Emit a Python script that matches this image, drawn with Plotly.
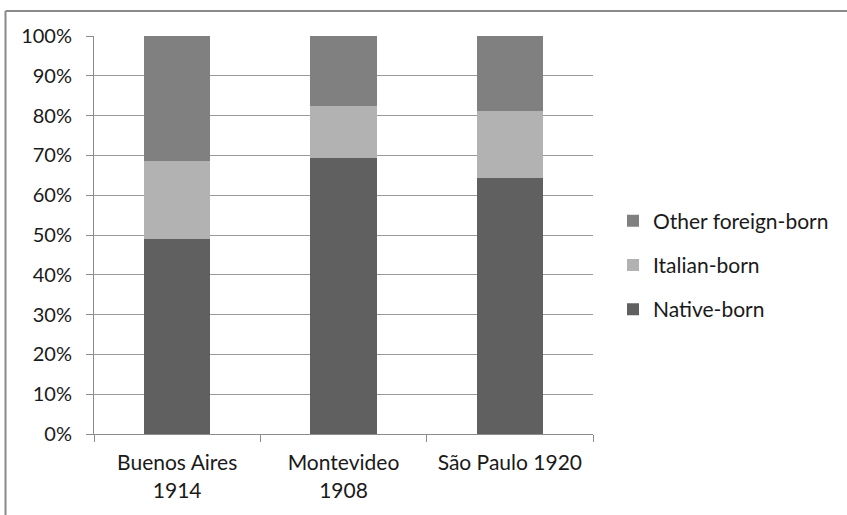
import plotly.graph_objects as go

cities = ["Buenos Aires<br>1914", "Montevideo<br>1908", "São Paulo 1920"]
native_born = [0.491, 0.693, 0.644]
italian_born = [0.196, 0.131, 0.168]
other_foreign = [0.313, 0.176, 0.188]

# (name, values, colour, legend rank)
series = [
    ("Native-born", native_born, "#606060", 3),
    ("Italian-born", italian_born, "#b2b2b2", 2),
    ("Other foreign-born", other_foreign, "#808080", 1),
]

fig = go.Figure()
for name, vals, color, rank in series:
    fig.add_trace(go.Bar(
        x=cities, y=vals, name=name, legendgroup=name, legendrank=rank,
        marker=dict(color=color, line=dict(width=0)),
        width=0.4,
    ))

W, H = 847, 515
ml, mr, mt, mb = 94, 254, 36, 81
pw, ph = W - ml - mr, H - mt - mb

# outer chart frame (top and left edges)
fx = (5.5 - ml) / pw
fy = (H - mb - 11) / ph
fig.add_shape(type="line", xref="paper", yref="paper",
              x0=fx, y0=-0.3, x1=fx, y1=fy, line=dict(color="#8a8a8a", width=2))
fig.add_shape(type="line", xref="paper", yref="paper",
              x0=fx, y0=fy, x1=1.6, y1=fy, line=dict(color="#8a8a8a", width=2))

font = "Lato, Noto Sans, sans-serif"
fig.update_layout(
    width=W, height=H,
    margin=dict(l=ml, r=mr, t=mt, b=mb, autoexpand=False),
    barmode="stack",
    plot_bgcolor="white", paper_bgcolor="white",
    font=dict(family=font, size=20, color="#1a1a1a"),
    showlegend=True,
    legend=dict(
        traceorder="grouped", tracegroupgap=14,
        xref="container", yref="container",
        x=613 / W, y=1 - 265 / H, xanchor="left", yanchor="middle",
        font=dict(size=21), itemwidth=30,
    ),
    xaxis=dict(
        showline=True, linecolor="#8c8c8c", linewidth=1,
        ticks="outside", tickson="boundaries", ticklen=7, tickcolor="#8c8c8c",
        showgrid=False, tickfont=dict(size=21), ticklabelstandoff=10,
    ),
    yaxis=dict(
        range=[0, 1], dtick=0.1, tickformat=".0%",
        showline=True, linecolor="#8c8c8c", linewidth=1,
        ticks="outside", ticklen=7, tickcolor="#8c8c8c",
        showgrid=True, gridcolor="#9a9a9a", gridwidth=1,
        zeroline=False, tickfont=dict(size=20), ticklabelstandoff=10,
    ),
)

fig.write_html("out.html")
